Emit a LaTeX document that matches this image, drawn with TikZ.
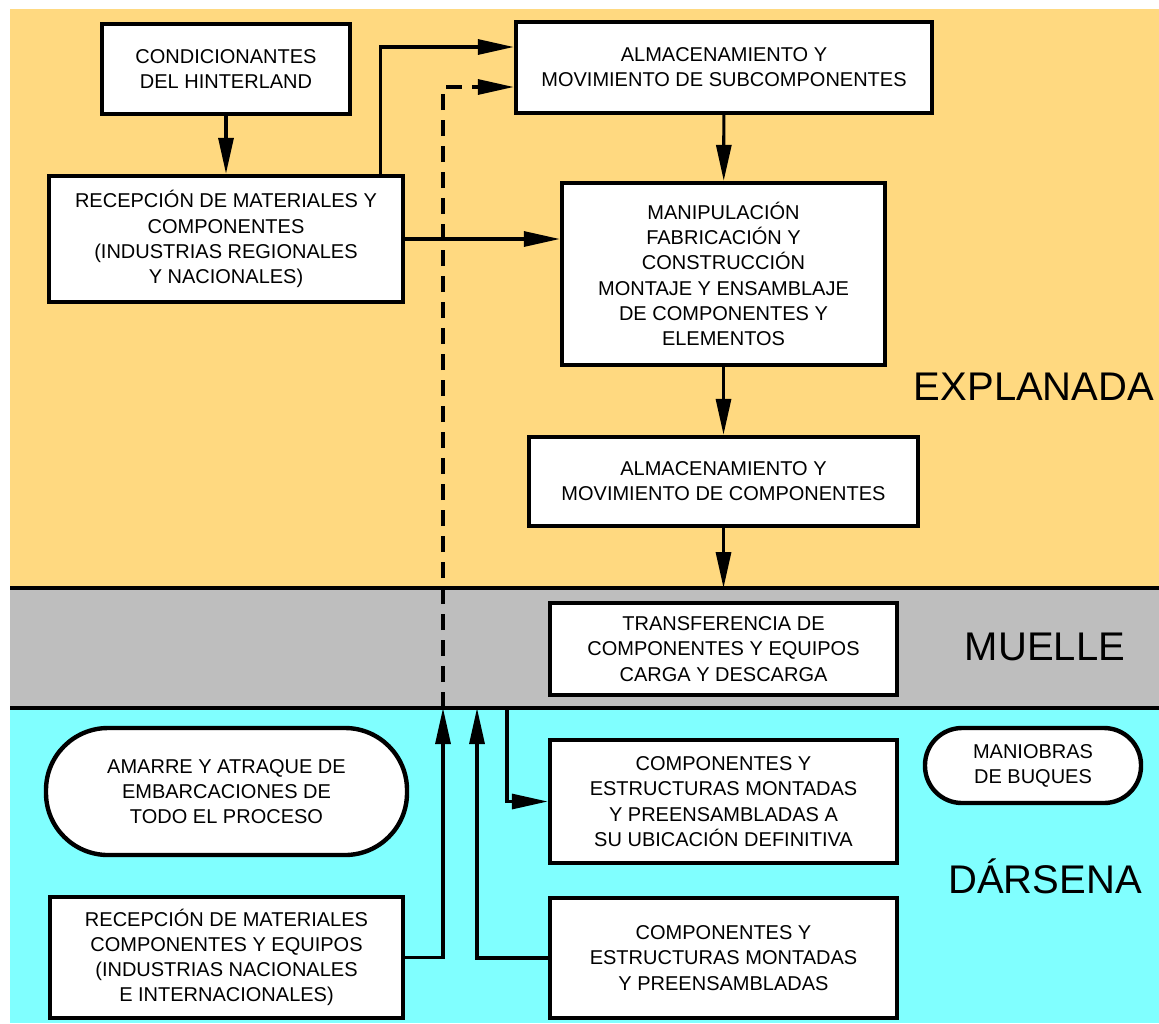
\documentclass[tikz,border=0pt]{standalone}
\usepackage{fontspec}
\setmainfont{Liberation Sans}
\usetikzlibrary{arrows.meta}
\definecolor{explanada}{RGB}{255,217,128}
\definecolor{muelle}{RGB}{190,190,190}
\definecolor{darsena}{RGB}{128,255,255}

\begin{document}
\begin{tikzpicture}[
  x=0.5pt, y=-0.5pt,
  font=\fontsize{10}{12.6}\selectfont,
  box/.style={draw, line width=2.2pt, fill=white, align=center, inner sep=0pt},
  pill/.style={box, rounded corners=#1},
  arr/.style={-{Triangle[length=18pt,width=7.5pt]}, line width=1.6pt},
  darr/.style={arr, dash pattern=on 8pt off 5pt},
  zone/.style={anchor=base, font=\fontsize{20}{24}\selectfont},
  sep/.style={line width=2pt}
]
% Page and the three zones
\fill[white] (0,0) rectangle (1159,1023);
\useasboundingbox (0,0) rectangle (1159,1023);
\fill[explanada] (10,9) rectangle (1159,588);
\fill[muelle] (10,588) rectangle (1159,708);
\fill[darsena] (10,708) rectangle (1159,1023);
\draw[sep] (10,588) -- (1159,588);
\draw[sep] (10,708) -- (1159,708);

\node[zone] (lexpl) at (1034,400) {EXPLANADA};
\node[zone] (lmuel) at (1045,660) {MUELLE};
\node[zone] (ldars) at (1045,893) {DÁRSENA};

% Points on the zone borders
\coordinate (q0) at (723.5,588);
\coordinate (q1) at (443,708);
\coordinate (q2) at (477,708);
\coordinate (q3) at (507,708);

% Explanada
\node[box, minimum width=124pt, minimum height=45pt] (cond) at (226,69)
  {CONDICIONANTES\\DEL HINTERLAND};
\node[box, minimum width=177pt, minimum height=63pt] (recep) at (226,239)
  {RECEPCIÓN DE MATERIALES Y\\COMPONENTES\\(INDUSTRIAS REGIONALES\\Y NACIONALES)};
\node[box, minimum width=208pt, minimum height=45.5pt] (subcomp) at (724,67.5)
  {ALMACENAMIENTO Y\\MOVIMIENTO DE SUBCOMPONENTES};
\node[box, minimum width=161.5pt, minimum height=91pt] (manip) at (723.5,274)
  {MANIPULACIÓN\\FABRICACIÓN Y\\CONSTRUCCIÓN\\MONTAJE Y ENSAMBLAJE\\DE COMPONENTES Y\\ELEMENTOS};
\node[box, minimum width=194.5pt, minimum height=44.5pt] (almcomp) at (723.5,481.5)
  {ALMACENAMIENTO Y\\MOVIMIENTO DE COMPONENTES};

% Muelle
\node[box, minimum width=173.5pt, minimum height=46pt] (transf) at (723.5,649)
  {TRANSFERENCIA DE\\COMPONENTES Y EQUIPOS\\CARGA Y DESCARGA};

% Darsena
\node[pill=31pt, minimum width=180.5pt, minimum height=63.5pt] (amarre) at (226.5,791.5)
  {AMARRE Y ATRAQUE DE\\EMBARCACIONES DE\\TODO EL PROCESO};
\node[box, minimum width=176.5pt, minimum height=60.5pt] (recepint) at (226.5,957.5)
  {RECEPCIÓN DE MATERIALES\\COMPONENTES Y EQUIPOS\\(INDUSTRIAS NACIONALES\\E INTERNACIONALES)};
\node[box, minimum width=173.5pt, minimum height=61.5pt] (montadas) at (723.5,801.5)
  {COMPONENTES Y\\ESTRUCTURAS MONTADAS\\Y PREENSAMBLADAS A\\SU UBICACIÓN DEFINITIVA};
\node[box, minimum width=173.5pt, minimum height=60pt] (preens) at (723.5,958)
  {COMPONENTES Y\\ESTRUCTURAS MONTADAS\\Y PREENSAMBLADAS};
\node[pill=18.5pt, minimum width=108pt, minimum height=37.5pt] (maniobras) at (1033,765.5)
  {MANIOBRAS\\DE BUQUES};

% Flows
\draw[arr] (cond) -- (recep);
\draw[arr] ([xshift=-12.5pt]recep.north east) |- ([yshift=10.25pt]subcomp.west);
\draw[arr] (recep.east) -- (recep.east -| manip.west);
\draw[arr] (subcomp) -- (manip);
\draw[arr] (manip) -- (almcomp);
\draw[arr] (almcomp) -- (q0);
\draw[arr] (recepint.east) -| (q1);
\draw[darr] (q1) |- ([yshift=-9.75pt]subcomp.west);
\draw[arr] (preens.west) -| (q2);
\draw[arr] (q3) |- (montadas.west);

\end{tikzpicture}
\end{document}
